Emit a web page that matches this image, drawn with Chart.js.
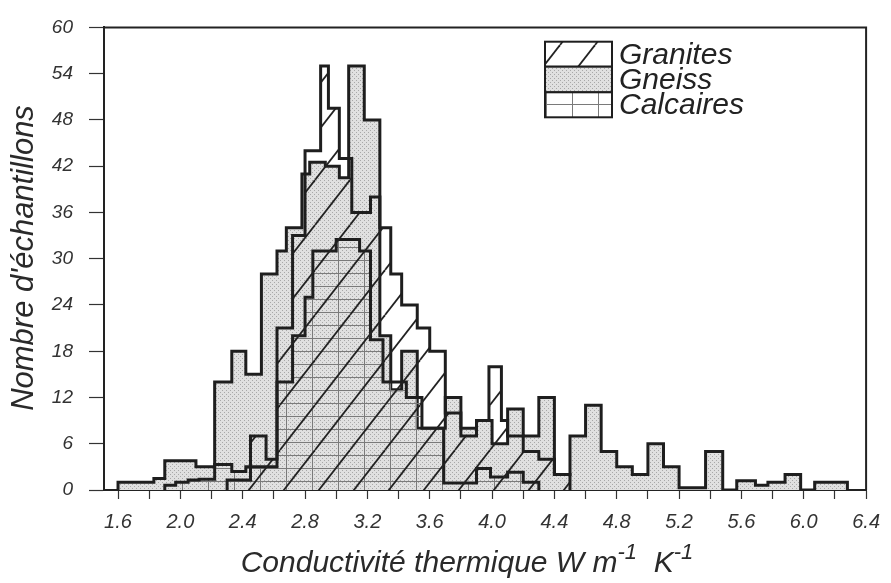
<!DOCTYPE html>
<html>
<head>
<meta charset="utf-8">
<script src="https://cdn.jsdelivr.net/npm/chart.js@4.4.1/dist/chart.umd.min.js"></script>
<style>
  html, body { margin: 0; padding: 0; background: #fff; }
  #wrap { width: 891px; height: 583px; }
</style>
</head>
<body>
<div id="wrap"><canvas id="chart"></canvas></div>
<script>
// tick values and labels
const xTicks = [1.6, 1.8, 2.0, 2.2, 2.4, 2.6, 2.8, 3.0, 3.2, 3.4, 3.6, 3.8, 4.0, 4.2, 4.4, 4.6, 4.8, 5.0, 5.2, 5.4, 5.6, 5.8, 6.0, 6.2, 6.4];
const xLabels = ['1.6', '2.0', '2.4', '2.8', '3.2', '3.6', '4.0', '4.4', '4.8', '5.2', '5.6', '6.0', '6.4'];
const yTicks = [0, 6, 12, 18, 24, 30, 36, 42, 48, 54, 60];

// histogram bin edges (W m-1 K-1) and counts per bin
const gneissEdges = [1.6, 1.83, 1.9, 2.1, 2.22, 2.33, 2.42, 2.52, 2.62, 2.68, 2.78, 2.83, 2.93, 3.02, 3.08, 3.18, 3.28, 3.35, 3.42, 3.52, 3.6, 3.7, 3.8, 3.9, 4.0, 4.1, 4.2, 4.3, 4.4, 4.5, 4.6, 4.7, 4.8, 4.9, 5.0, 5.1, 5.2, 5.37, 5.48, 5.57, 5.69, 5.77, 5.88, 5.98, 6.07, 6.28];
const gneissCounts = [1, 1.5, 3.8, 3, 14, 18, 15, 28, 31, 34, 41, 42.5, 42, 40.5, 55, 48, 20, 13, 18, 8, 8, 12, 8, 9, 6, 10.5, 7, 12, 2, 7, 11, 5, 3, 2, 6, 3, 0.3, 5, 0, 1.2, 0.6, 1, 2, 0, 1];

const graniteEdges = [2.3, 2.45, 2.55, 2.62, 2.72, 2.8, 2.9, 2.95, 3.02, 3.1, 3.22, 3.28, 3.35, 3.42, 3.52, 3.6, 3.7, 3.8, 3.9, 3.98, 4.06, 4.1, 4.2, 4.3, 4.4, 4.5];
const graniteCounts = [1.3, 7, 4, 21, 33, 44, 55, 49.5, 43, 36, 38, 34, 28, 24, 21, 18, 10, 7, 9, 16, 9, 7, 5, 4, 2];

const calcEdges = [1.9, 1.97, 2.05, 2.12, 2.22, 2.33, 2.42, 2.55, 2.62, 2.72, 2.8, 2.85, 3.0, 3.15, 3.22, 3.3, 3.45, 3.55, 3.69, 3.9, 3.99, 4.1, 4.2, 4.3];
const calcCounts = [0.6, 1, 1.3, 1.4, 3.3, 2.4, 3, 3, 14, 20, 25, 31, 32.5, 31, 19.5, 14, 12, 8, 0.9, 2.8, 1.7, 2.3, 1];

function steps(edges, counts) {
  const pts = [{ x: edges[0], y: 0 }];
  counts.forEach((c, i) => pts.push({ x: edges[i], y: c }));
  pts.push({ x: edges[edges.length - 1], y: 0 });
  return pts;
}

// fill patterns
function stipple() {
  const c = document.createElement('canvas');
  c.width = 4; c.height = 4;
  const g = c.getContext('2d');
  g.fillStyle = '#e0e0e0';
  g.fillRect(0, 0, 4, 4);
  g.fillStyle = '#a8a8a8';
  g.fillRect(0, 0, 1, 1);
  g.fillRect(2, 2, 1, 1);
  return g.createPattern(c, 'repeat');
}

function hatch() {
  const w = 35, h = 45;
  const c = document.createElement('canvas');
  c.width = w; c.height = h;
  const g = c.getContext('2d');
  g.strokeStyle = '#222';
  g.lineWidth = 1.8;
  [-w, 0, w].forEach(o => {
    g.beginPath();
    g.moveTo(o, h);
    g.lineTo(o + w, 0);
    g.stroke();
  });
  return g.createPattern(c, 'repeat');
}

function grid() {
  const w = 26, h = 13;
  const c = document.createElement('canvas');
  c.width = w; c.height = h;
  const g = c.getContext('2d');
  g.fillStyle = '#7a7a7a';
  g.fillRect(0, 0, w, 1);
  g.fillRect(0, 0, 1, h);
  return g.createPattern(c, 'repeat');
}

const pStipple = stipple(), pHatch = hatch(), pGrid = grid();

const ink = '#1e1e1e';
const sans = '"Liberation Sans", Arial, sans-serif';
const italic = (size, fam) => ({ family: fam || sans, size: size, style: 'italic' });

const extras = {
  id: 'extras',
  afterDraw(chart) {
    const ctx = chart.ctx;
    const a = chart.chartArea;
    ctx.save();
    // frame top and right
    ctx.strokeStyle = '#222';
    ctx.lineWidth = 2;
    ctx.beginPath();
    ctx.moveTo(a.left, a.top);
    ctx.lineTo(a.right, a.top);
    ctx.lineTo(a.right, a.bottom);
    ctx.stroke();

    // legend
    const lx = 545, lw = 67, rows = [41.7, 66.7, 92.3, 117.3];
    const fills = [pHatch, pStipple, pGrid];
    const names = ['Granites', 'Gneiss', 'Calcaires'];
    for (let i = 0; i < 3; i++) {
      ctx.fillStyle = '#fff';
      ctx.fillRect(lx, rows[i], lw, rows[i + 1] - rows[i]);
      ctx.fillStyle = fills[i];
      ctx.fillRect(lx, rows[i], lw, rows[i + 1] - rows[i]);
      ctx.strokeStyle = ink;
      ctx.lineWidth = 2;
      ctx.strokeRect(lx, rows[i], lw, rows[i + 1] - rows[i]);
      ctx.fillStyle = '#222';
      ctx.font = 'italic 30px ' + sans;
      ctx.textAlign = 'left';
      ctx.textBaseline = 'alphabetic';
      ctx.fillText(names[i], 619, rows[i + 1] - 3);
    }

    // y axis title
    ctx.save();
    ctx.translate(24, 258);
    ctx.rotate(-Math.PI / 2);
    ctx.textAlign = 'center';
    ctx.textBaseline = 'middle';
    ctx.fillStyle = '#2a2a2a';
    ctx.font = 'italic 31px ' + sans;
    ctx.fillText("Nombre d'échantillons", 0, 0);
    ctx.restore();

    // x axis title with superscripts
    const parts = [
      { t: 'Conductivité thermique W m', s: 30, dy: 0 },
      { t: '-1', s: 22, dy: -13 },
      { t: '  K', s: 30, dy: 0 },
      { t: '-1', s: 22, dy: -13 }
    ];
    let total = 0;
    parts.forEach(p => {
      ctx.font = 'italic ' + p.s + 'px ' + sans;
      p.w = ctx.measureText(p.t).width;
      total += p.w;
    });
    let x = 467 - total / 2;
    ctx.textAlign = 'left';
    ctx.textBaseline = 'alphabetic';
    ctx.fillStyle = '#2a2a2a';
    parts.forEach(p => {
      ctx.font = 'italic ' + p.s + 'px ' + sans;
      ctx.fillText(p.t, x, 572 + p.dy);
      x += p.w;
    });
    ctx.restore();
  }
};

const line = (data, fill, order) => ({
  data: data,
  stepped: true,
  fill: 'origin',
  backgroundColor: fill,
  borderColor: ink,
  borderWidth: 3,
  pointRadius: 0,
  tension: 0,
  order: order
});

new Chart(document.getElementById('chart'), {
  type: 'line',
  data: {
    datasets: [
      line(steps(graniteEdges, graniteCounts), pHatch, 1),
      line(steps(gneissEdges, gneissCounts), pStipple, 3),
      line(steps(calcEdges, calcCounts), pGrid, 2)
    ]
  },
  options: {
    responsive: true,
    maintainAspectRatio: false,
    animation: false,
    layout: { padding: { left: 0, right: 15, top: 16, bottom: 0 } },
    plugins: {
      legend: { display: false },
      tooltip: { enabled: false }
    },
    scales: {
      x: {
        type: 'linear',
        min: 1.51,
        max: 6.4,
        afterFit: s => { s.height = 93; },
        afterBuildTicks: s => { s.ticks = xTicks.map(v => ({ value: v })); },
        border: { color: '#222', width: 2 },
        grid: { drawOnChartArea: false, tickLength: 9, color: '#333', tickWidth: 1.2 },
        ticks: {
          autoSkip: false,
          maxRotation: 0,
          padding: 11,
          color: '#333',
          font: italic(20, '"Liberation Sans Narrow", ' + sans),
          callback: v => {
            const s = (Math.round(v * 10) / 10).toFixed(1);
            return xLabels.includes(s) ? s : '';
          }
        }
      },
      y: {
        min: 0,
        max: 60,
        afterFit: s => { s.width = 104; },
        afterBuildTicks: s => { s.ticks = yTicks.map(v => ({ value: v })); },
        border: { color: '#222', width: 2 },
        grid: { drawOnChartArea: false, tickLength: 15, color: '#333', tickWidth: 1.2 },
        ticks: {
          padding: 16,
          color: '#333',
          font: italic(19)
        }
      }
    }
  },
  plugins: [extras]
});
</script>
</body>
</html>
